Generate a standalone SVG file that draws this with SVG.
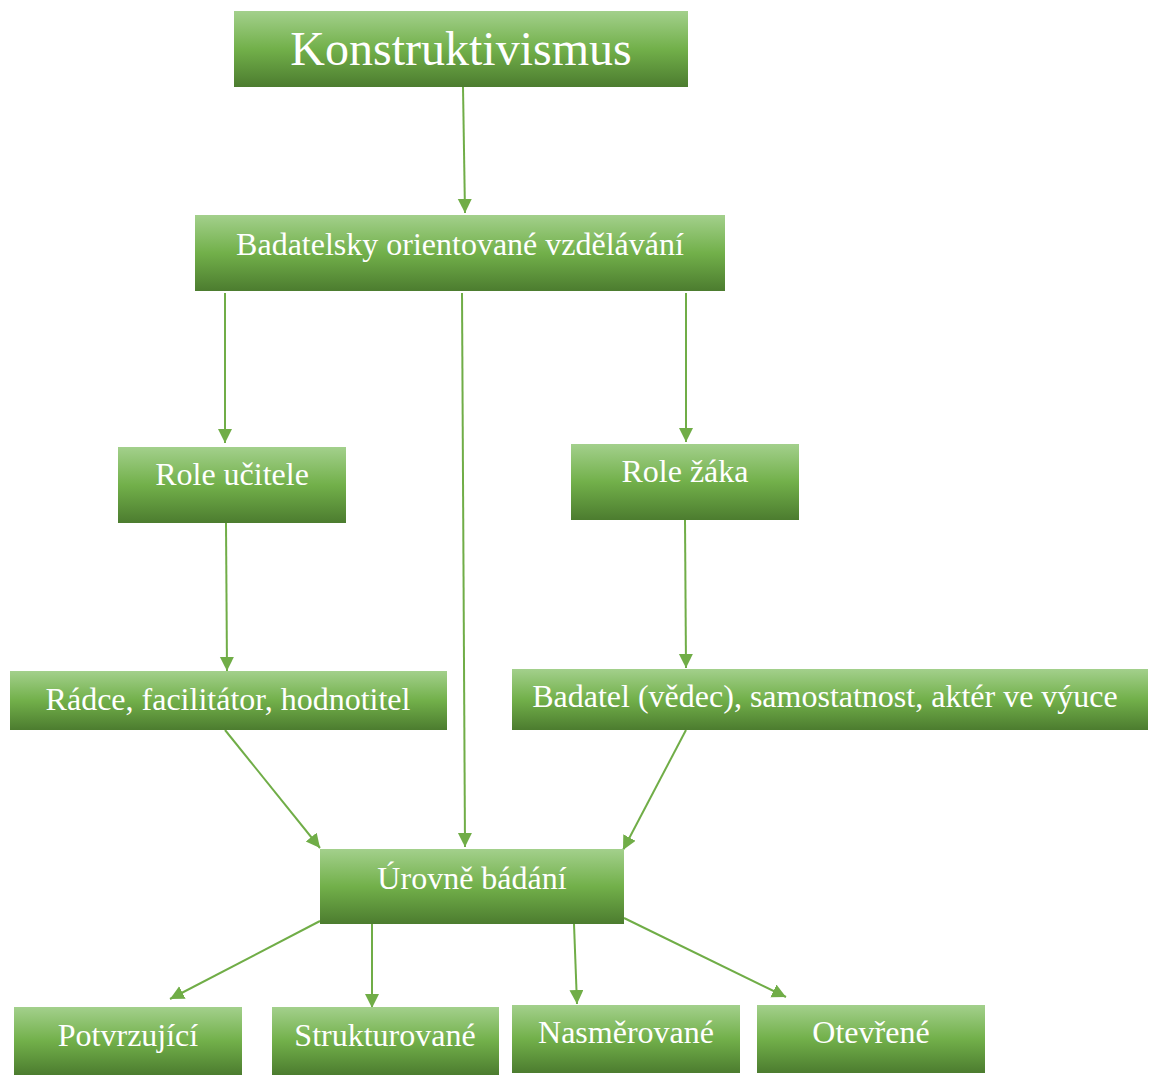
<svg xmlns="http://www.w3.org/2000/svg" width="1151" height="1075" viewBox="0 0 1151 1075">
<defs>
<linearGradient id="g" x1="0" y1="0" x2="0" y2="1">
<stop offset="0" stop-color="#a3d08c"/>
<stop offset="0.5" stop-color="#72b04a"/>
<stop offset="1" stop-color="#4c7c2f"/>
</linearGradient>
<marker id="ah" markerWidth="15" markerHeight="15" refX="14" refY="7" orient="auto" markerUnits="userSpaceOnUse">
<path d="M0,0 L14,7 L0,14 Z" fill="#70ad47"/>
</marker>
</defs>
<style>
.box{fill:url(#g);}
.t{font-family:"Liberation Serif","Times New Roman",serif;fill:#fff;text-anchor:middle;font-size:32px;}
.c line{stroke:#70ad47;stroke-width:2;marker-end:url(#ah);}
</style>
<rect width="1151" height="1075" fill="#fff"/>
<g class="c">
<line x1="463" y1="87" x2="465" y2="213"/>
<line x1="225" y1="293" x2="225" y2="443"/>
<line x1="462" y1="293" x2="465" y2="847"/>
<line x1="686" y1="293" x2="686" y2="442"/>
<line x1="226" y1="523" x2="227" y2="671"/>
<line x1="685" y1="520" x2="686" y2="668"/>
<line x1="225" y1="730" x2="320" y2="848"/>
<line x1="686" y1="730" x2="623" y2="850"/>
<line x1="320" y1="921" x2="170" y2="999"/>
<line x1="372" y1="924" x2="372" y2="1008"/>
<line x1="574" y1="924" x2="577" y2="1004"/>
<line x1="624" y1="918" x2="786" y2="997"/>
</g>
<g id="n1"><rect class="box" x="234" y="11" width="454" height="76"/><text class="t" x="461" y="65" style="font-size:48px">Konstruktivismus</text></g>
<g id="n2"><rect class="box" x="195" y="215" width="530" height="76"/><text class="t" x="460" y="255">Badatelsky orientované vzdělávání</text></g>
<g id="n3"><rect class="box" x="118" y="447" width="228" height="76"/><text class="t" x="232" y="485">Role učitele</text></g>
<g id="n4"><rect class="box" x="571" y="444" width="228" height="76"/><text class="t" x="685" y="482">Role žáka</text></g>
<g id="n5"><rect class="box" x="10" y="671" width="437" height="59"/><text class="t" x="228" y="710">Rádce, facilitátor, hodnotitel</text></g>
<g id="n6"><rect class="box" x="512" y="669" width="636" height="61"/><text class="t" x="825" y="707">Badatel (vědec), samostatnost, aktér ve výuce</text></g>
<g id="n7"><rect class="box" x="320" y="849" width="304" height="75"/><text class="t" x="472" y="889">Úrovně bádání</text></g>
<g id="n8"><rect class="box" x="14" y="1007" width="228" height="68"/><text class="t" x="128" y="1046">Potvrzující</text></g>
<g id="n9"><rect class="box" x="272" y="1007" width="227" height="68"/><text class="t" x="385" y="1046">Strukturované</text></g>
<g id="n10"><rect class="box" x="512" y="1005" width="228" height="68"/><text class="t" x="626" y="1043">Nasměrované</text></g>
<g id="n11"><rect class="box" x="757" y="1005" width="228" height="68"/><text class="t" x="871" y="1043">Otevřené</text></g>
</svg>
